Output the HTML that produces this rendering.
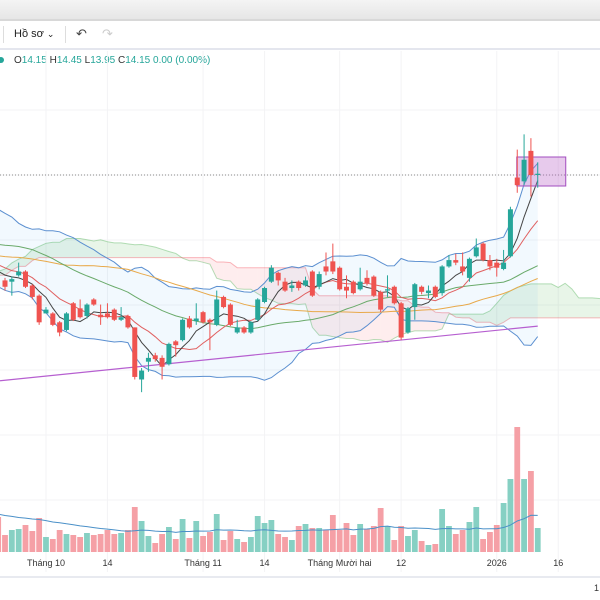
<!DOCTYPE html>
<html><head><meta charset="utf-8"><style>
body{margin:0;width:600px;height:600px;overflow:hidden;background:#fff;font-family:"Liberation Sans","Noto Sans CJK SC",sans-serif;position:relative}
#top{position:absolute;left:0;top:0;width:600px;height:19px;background:linear-gradient(#f4f4f4,#e6e6e6);border-bottom:2px solid #d8d8d8}
#tb{position:absolute;left:0;top:21px;width:600px;height:27px;border-bottom:2px solid #e4e6ee}
#legend{position:absolute;left:0;top:55px;font-size:10px;color:#333;white-space:nowrap}
#legend span.v{color:#26a69a}
svg{position:absolute;left:0;top:0}
</style></head><body>
<div id="top"></div>
<div id="tb">
 <div style="position:absolute;left:3px;top:5px;width:1px;height:17px;background:#ddd"></div>
 <div style="position:absolute;left:14px;top:7px;font-size:11px;color:#222">Hồ sơ <span style="font-size:9px">⌄</span></div>
 <div style="position:absolute;left:65px;top:5px;width:1px;height:17px;background:#ddd"></div>
 <div style="position:absolute;left:76px;top:5px;font-size:13px;color:#444">↶</div>
 <div style="position:absolute;left:102px;top:5px;font-size:13px;color:#ccc">↷</div>
</div>
<div id="legend"><span style="display:inline-block;width:6px;height:6px;border-radius:3px;background:#26a69a;margin-left:-2px;margin-right:10px"></span>O<span class="v">14.15</span> H<span class="v">14.45</span> L<span class="v">13.95</span> C<span class="v">14.15</span> <span class="v">0.00 (0.00%)</span></div>
<svg id="chart" width="600" height="600"></svg>
<script>
const histCloses=[13.10,13.15,13.12,13.20,13.25,13.22,13.30,13.36,13.33,13.42,13.48,13.45,13.55,13.62,13.58,13.70,13.76,13.72,13.85,13.90,13.86,13.78,13.82,13.74,13.70,13.72,13.64,13.60,13.63,13.56,13.52,13.55,13.48,13.45,13.48,13.42,13.40,13.43,13.37,13.34];
const histVolumes=[60,55,62,58,50,57,52,48,55,50,46,52,49,45,50,47,44,48,45,42,46,43,40,44,41,39,42,38,40,37,39,36,38,35,37,34,36,33,35,34];
const opens=[13.32,13.31,13.36,13.39,13.28,13.20,13.06,13.06,12.99,12.93,13.14,13.10,13.04,13.17,13.05,13.06,13.09,13.01,13.04,12.95,12.54,12.68,12.73,12.71,12.66,12.84,12.85,13.02,13.00,13.07,13.01,12.97,13.19,13.13,12.91,12.95,12.91,13.01,13.15,13.31,13.38,13.31,13.26,13.31,13.28,13.39,13.27,13.43,13.47,13.42,13.27,13.31,13.25,13.34,13.35,13.23,13.24,13.27,13.14,12.91,13.11,13.27,13.22,13.27,13.22,13.43,13.48,13.43,13.34,13.51,13.61,13.48,13.46,13.41,13.51,14.13,14.10,14.34,14.15];
const closes=[13.27,13.33,13.39,13.27,13.19,12.99,13.09,12.97,12.91,13.06,13.01,13.03,13.13,13.13,13.03,13.03,13.01,13.03,12.95,12.56,12.61,12.71,12.70,12.64,12.82,12.81,13.01,12.95,13.02,12.99,12.99,13.17,13.11,12.97,12.95,12.91,12.99,13.17,13.26,13.42,13.32,13.24,13.28,13.26,13.32,13.20,13.37,13.39,13.39,13.25,13.24,13.22,13.31,13.30,13.20,13.09,13.25,13.14,12.87,13.10,13.29,13.23,13.24,13.19,13.43,13.48,13.46,13.39,13.49,13.58,13.48,13.43,13.42,13.46,13.88,14.07,14.27,14.15,14.16];
const highs=[13.34,13.35,13.46,13.40,13.29,13.21,13.11,13.07,13.00,13.07,13.15,13.17,13.14,13.18,13.13,13.14,13.10,13.11,13.05,12.95,12.63,12.75,12.75,12.73,12.83,12.85,13.02,13.04,13.14,13.08,13.02,13.24,13.20,13.14,13.01,12.96,13.00,13.18,13.27,13.44,13.39,13.34,13.32,13.32,13.35,13.40,13.39,13.54,13.61,13.43,13.36,13.32,13.42,13.40,13.36,13.24,13.36,13.28,13.15,13.11,13.30,13.28,13.28,13.28,13.44,13.52,13.53,13.54,13.50,13.65,13.62,13.52,13.49,13.56,13.90,14.35,14.47,14.44,14.25];
const lows=[13.24,13.20,13.35,13.26,13.17,12.97,13.06,12.96,12.88,12.92,13.00,13.02,13.02,13.12,12.97,13.02,13.00,13.00,12.94,12.54,12.44,12.60,12.68,12.54,12.65,12.72,12.84,12.94,12.97,12.98,12.77,12.96,13.10,12.96,12.90,12.90,12.90,13.00,13.14,13.30,13.28,13.23,13.23,13.24,13.27,13.19,13.25,13.36,13.37,13.24,13.18,13.21,13.24,13.28,13.19,13.07,13.19,13.13,12.85,12.90,13.01,13.21,13.18,13.18,13.20,13.42,13.44,13.36,13.31,13.50,13.47,13.40,13.35,13.40,13.50,14.01,14.07,13.98,14.05];
const volumes=[35,17,22,23,27,21,34,15,13,22,18,17,15,19,17,18,22,18,19,22,45,31,16,9,18,25,13,33,14,31,16,20,38,12,21,13,10,15,36,29,32,18,15,12,26,28,24,24,22,37,22,29,17,28,23,26,44,26,12,26,16,22,11,7,8,43,26,18,22,30,45,13,20,27,49,73,125,73,81,24];
const timeLabels=["Tháng 10","14","Tháng 11","14","Tháng Mười hai","12","2026","16"];
const timeLabelIdx=[6,15,29,38,49,58,72,81];
const longMA=[12.53,12.96];
const lastPrice=14.15;

const NS="http://www.w3.org/2000/svg",svg=document.getElementById('chart');
const x0=5,dx=6.83;
const xOf=i=>x0+i*dx;
const yOf=p=>175-(p-14.15)*127;
const vBase=552,vScale=1;
const vY=v=>vBase-v*vScale;
function mk(t,a){const e=document.createElementNS(NS,t);for(const k in a)e.setAttribute(k,a[k]);svg.appendChild(e);return e;}
const n=closes.length,H=histCloses.length;
const C=histCloses.concat(closes);
const HI=histCloses.map(c=>c+0.06).concat(highs);
const LO=histCloses.map(c=>c-0.06).concat(lows);
const V=histVolumes.concat(volumes);
const X=j=>xOf(j-H);
for(const gy of [110,175,240,305,370,435,500]){const g=mk('line',{x1:0,x2:600,y1:gy,y2:gy,stroke:'#f3f3f5'});}
timeLabelIdx.forEach(i=>{const g=mk('line',{x1:xOf(i),x2:xOf(i),y1:51,y2:572,stroke:'#f3f3f5'});});
function sma(a,p,i){let s=0,c=0;for(let k=Math.max(0,i-p+1);k<=i;k++){s+=a[k];c++;}return s/c;}
function mid(i,p){let h=-1e9,l=1e9;for(let k=Math.max(0,i-p+1);k<=i;k++){h=Math.max(h,HI[k]);l=Math.min(l,LO[k]);}return (h+l)/2;}
function path(pts){return pts.map((p,k)=>(k?'L':'M')+p[0].toFixed(1)+' '+p[1].toFixed(1)).join('');}
const N=C.length;
const sa=[],sb=[];
for(let j=0;j<N;j++){sa.push([X(j+26),yOf((mid(j,9)+mid(j,26))/2)]);sb.push([X(j+26),yOf(mid(j,52))]);}
for(let j=0;j<N-1;j++){const u=(sa[j][1]+sa[j+1][1])<(sb[j][1]+sb[j+1][1]);
 const e=mk('path',{d:path([sa[j],sa[j+1],sb[j+1],sb[j]])+'Z',fill:u?'rgba(76,175,80,0.13)':'rgba(242,54,69,0.09)',stroke:'none'});
 }
let e=mk('path',{d:path(sa),fill:'none',stroke:'rgba(76,175,80,0.4)','stroke-width':1});
e=mk('path',{d:path(sb),fill:'none',stroke:'rgba(242,54,69,0.35)','stroke-width':1});
const up=[],lo=[];
for(let j=H-2;j<N;j++){const m=sma(C,20,j);let s=0,c=0;for(let k=Math.max(0,j-19);k<=j;k++){s+=(C[k]-m)**2;c++;}const sd=Math.max(Math.sqrt(s/c),0.08);up.push([X(j),yOf(m+2*sd)]);lo.push([X(j),yOf(m-2*sd)]);}
e=mk('path',{d:path(up.concat(lo.slice().reverse()))+'Z',fill:'rgba(33,150,243,0.06)',stroke:'none'});
e=mk('path',{d:path(up),fill:'none',stroke:'#5b8fd0','stroke-width':1});
e=mk('path',{d:path(lo),fill:'none',stroke:'#5b8fd0','stroke-width':1});
const maDefs=[[50,'#e8a94a','ma50-line'],[30,'#6aaa6a','ma30-line'],[10,'#e06060','ma10-line'],[5,'#444','ma5-line']];
maDefs.forEach(([p,col,name])=>{const pts=[];for(let j=H-2;j<N;j++)pts.push([X(j),yOf(sma(C,p,j))]);const l=mk('path',{d:path(pts),fill:'none',stroke:col,'stroke-width':1});});
e=mk('line',{x1:0,y1:yOf(longMA[0]),x2:xOf(n-1),y2:yOf(longMA[1]),stroke:'#b65fd0','stroke-width':1.2});
e=mk('line',{x1:0,x2:600,y1:yOf(lastPrice),y2:yOf(lastPrice),stroke:'#888','stroke-dasharray':'1 2'});
e=mk('rect',{x:xOf(n-4)-0.5,y:157,width:49,height:29,fill:'rgba(186,104,200,0.35)',stroke:'#a24cbf','stroke-width':1});
for(let i=0;i<n;i++){const g=closes[i]>=opens[i],col=g?'#26a69a':'#ef5350';const x=xOf(i);
 const w=mk('line',{x1:x,x2:x,y1:yOf(highs[i]),y2:yOf(lows[i]),stroke:col,'stroke-width':1});
 
 const t=yOf(Math.max(opens[i],closes[i])),b=yOf(Math.min(opens[i],closes[i]));
 const r=mk('rect',{x:x-2.5,y:t,width:5,height:Math.max(b-t,1),fill:col});
 }
const vn=volumes.length,off=vn-n;
for(let j=0;j<vn;j++){const i=j-off;const g=i>=0?closes[i]>=opens[i]:false;
 const r=mk('rect',{x:xOf(i)-2.9,y:vY(volumes[j]),width:5.8,height:volumes[j]*vScale,fill:g?'#86d0c3':'#f5a0a6'});
 }
const vp=[];for(let j=H-2;j<V.length;j++)vp.push([X(j-off),vY(sma(V,20,j))]);
e=mk('path',{d:path(vp),fill:'none',stroke:'#4a90c8','stroke-width':1});
timeLabels.forEach((s,k)=>{const t=mk('text',{x:xOf(timeLabelIdx[k]),y:566,'font-size':9,fill:'#333','text-anchor':'middle','font-family':'Liberation Sans, sans-serif'});t.textContent=s;});
e=mk('line',{x1:0,x2:600,y1:577,y2:577,stroke:'#e0e3eb','stroke-width':1.5});
e=mk('text',{x:594,y:591,'font-size':9,fill:'#333','font-family':'Liberation Sans, sans-serif'});e.textContent='1';
</script>
</body></html>
